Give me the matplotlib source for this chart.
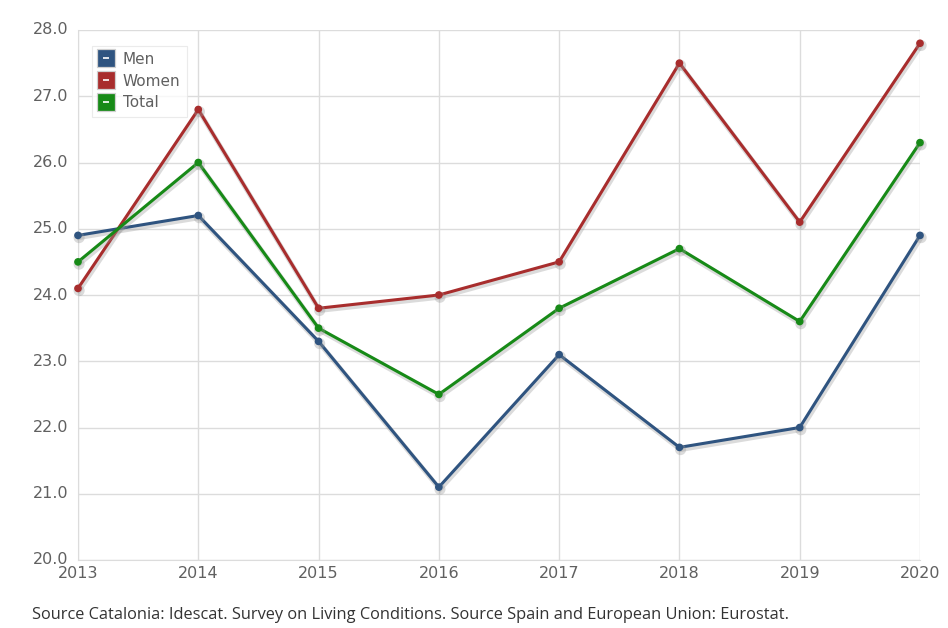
#!/usr/bin/env python3
"""At-risk-of-poverty rate by sex, Catalonia 2013-2020."""
import matplotlib as mpl
import matplotlib.pyplot as plt
import matplotlib.patheffects as pe
from matplotlib.lines import Line2D
from matplotlib.legend_handler import HandlerTuple

YEARS = [2013, 2014, 2015, 2016, 2017, 2018, 2019, 2020]
MEN = [24.9, 25.2, 23.3, 21.1, 23.1, 21.7, 22.0, 24.9]
WOMEN = [24.1, 26.8, 23.8, 24.0, 24.5, 27.5, 25.1, 27.8]
TOTAL = [24.5, 26.0, 23.5, 22.5, 23.8, 24.7, 23.6, 26.3]

SERIES = [("Men", MEN, "#2f5480"), ("Women", WOMEN, "#a82d2d"), ("Total", TOTAL, "#178a17")]
TEXT_COLOR = "#606060"
GRID_COLOR = "#dcdcdc"

mpl.rcParams.update({"font.family": ["DejaVu Sans"]})

fig = plt.figure(figsize=(9.48, 6.28), dpi=100)
ax = fig.add_axes([78 / 948, 1 - 560 / 628, (920 - 78) / 948, (560 - 30) / 628])

shadow = [pe.SimpleLineShadow(offset=(0.8, -1.6), shadow_color="#999999", alpha=0.35, linewidth=3.5), pe.Normal()]
handles = []
for name, values, color in SERIES:
    ax.plot(YEARS, values, color=color, linewidth=2.2, marker="o", markersize=4.5,
            solid_joinstyle="miter", path_effects=shadow, zorder=3, clip_on=False)
    sq = Line2D([], [], linestyle="none", marker="s", markersize=13, markerfacecolor=color,
                markeredgecolor="#d0d0d0", markeredgewidth=0.9)
    dash = Line2D([], [], linestyle="none", marker="_", markersize=5, markeredgecolor="white",
                  markeredgewidth=1.2)
    handles.append(((sq, dash), name))

ax.set_xlim(2013, 2020)
ax.set_ylim(20, 28)
ax.set_xticks(YEARS)
ax.set_yticks(range(20, 29))
ax.set_yticklabels([f"{v:.1f}" for v in range(20, 29)])
ax.grid(True, color=GRID_COLOR, linewidth=1.0)
ax.set_axisbelow(True)
for side, spine in ax.spines.items():
    spine.set_visible(side in ("left", "bottom"))
    spine.set_color(GRID_COLOR)
ax.tick_params(length=0, labelsize=11.5, labelcolor=TEXT_COLOR, pad=7)
ax.tick_params(axis="x", pad=4)
for lbl in ax.get_yticklabels():
    lbl.set_verticalalignment("center")

leg = ax.legend([h for h, _ in handles], [n for _, n in handles],
                handler_map={tuple: HandlerTuple(ndivide=1)},
                loc="upper left", bbox_to_anchor=(0.008, 0.985), frameon=True,
                fontsize=11, labelcolor=TEXT_COLOR, handlelength=1.0, handletextpad=0.6,
                labelspacing=0.45, borderpad=0.4, fancybox=False)
leg.get_frame().set_edgecolor("#e6e6e6")
leg.get_frame().set_linewidth(0.8)

fig.text(32 / 948, 1 - 615 / 628, "Source Catalonia: Idescat. Survey on Living Conditions. "
         "Source Spain and European Union: Eurostat.", fontsize=11.8, color="#333333",
         ha="left", va="center", family=["Open Sans", "DejaVu Sans"])

fig.savefig("out.png", dpi=100)
